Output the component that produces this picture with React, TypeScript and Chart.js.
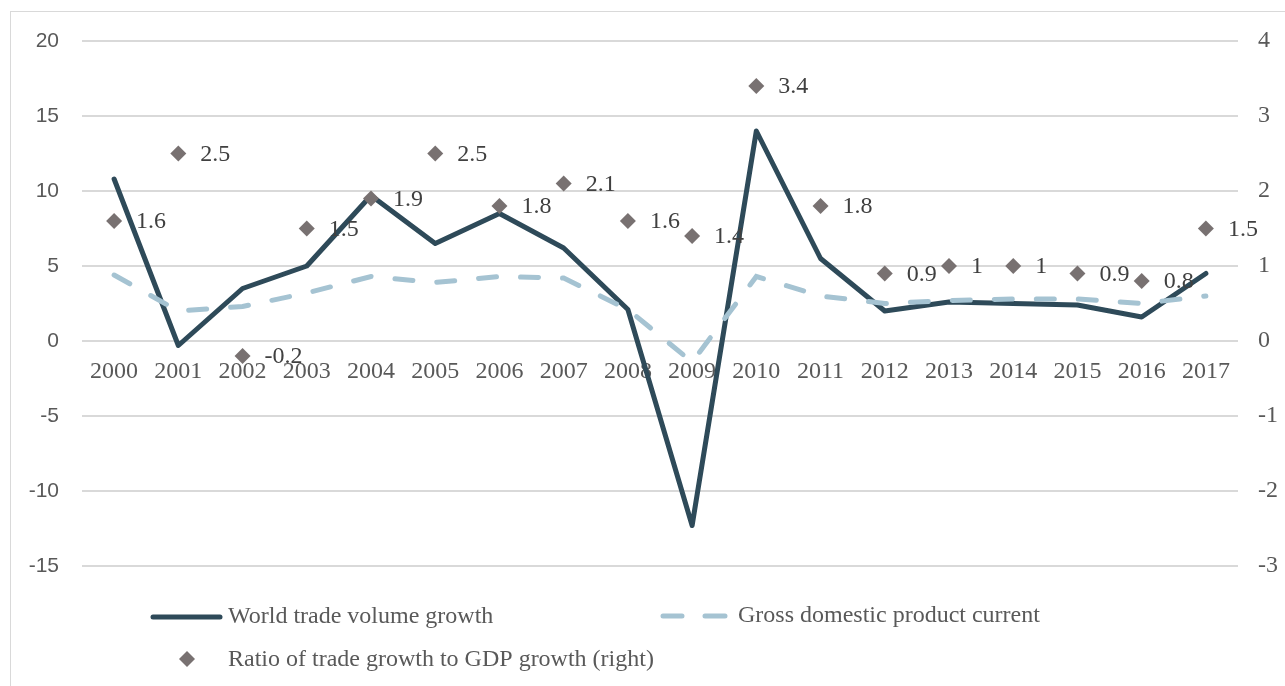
import React, { useEffect, useRef } from "react";
import { Chart, registerables } from "chart.js";

Chart.register(...registerables);

const years = ["2000", "2001", "2002", "2003", "2004", "2005", "2006", "2007", "2008", "2009", "2010", "2011", "2012", "2013", "2014", "2015", "2016", "2017"];
const tradeGrowth = [10.8, -0.3, 3.5, 5.0, 9.7, 6.5, 8.5, 6.2, 2.1, -12.3, 14.0, 5.5, 2.0, 2.6, 2.5, 2.4, 1.6, 4.5];
const gdpGrowth = [4.4, 2.0, 2.3, 3.2, 4.3, 3.9, 4.3, 4.2, 2.1, -1.4, 4.3, 3.0, 2.5, 2.7, 2.8, 2.8, 2.5, 3.0];
const ratio = [1.6, 2.5, -0.2, 1.5, 1.9, 2.5, 1.8, 2.1, 1.6, 1.4, 3.4, 1.8, 0.9, 1.0, 1.0, 0.9, 0.8, 1.5];
const ratioLabels = ["1.6", "2.5", "-0.2", "1.5", "1.9", "2.5", "1.8", "2.1", "1.6", "1.4", "3.4", "1.8", "0.9", "1", "1", "0.9", "0.8", "1.5"];

const seriesNames = ["World trade volume growth", "Gross domestic product current", "Ratio of trade growth to GDP growth (right)"];

const DARK = "#2E4A59";
const LIGHT = "#A5C3D2";
const GRAY = "#787171";
const TEXT = "#595959";
const SERIF = "'Liberation Serif', 'Times New Roman', serif";
const SANS = "'Liberation Sans', Arial, sans-serif";

const W = 1285;
const H = 686;
const AREA_LEFT = 82;
const AREA_RIGHT = 1238;
const AREA_TOP = 41;
const AREA_BOTTOM = 566;

const labelPlugin = {
  id: "ratioLabels",
  afterDatasetsDraw(chart: any) {
    const ctx = chart.ctx;
    const meta = chart.getDatasetMeta(2);
    ctx.save();
    ctx.font = `24px ${SERIF}`;
    ctx.fillStyle = "#404040";
    ctx.textAlign = "left";
    ctx.textBaseline = "middle";
    meta.data.forEach((pt: any, i: number) => {
      ctx.fillText(ratioLabels[i], pt.x + 22, pt.y + 1);
    });
    ctx.restore();
  },
};

const legendPlugin = {
  id: "customLegend",
  afterDraw(chart: any) {
    const ctx = chart.ctx;
    ctx.save();
    ctx.lineCap = "round";
    ctx.lineWidth = 5;
    // trade
    ctx.strokeStyle = DARK;
    ctx.beginPath();
    ctx.moveTo(153, 617);
    ctx.lineTo(220, 617);
    ctx.stroke();
    // gdp
    ctx.strokeStyle = LIGHT;
    ctx.beginPath();
    ctx.moveTo(663, 616);
    ctx.lineTo(682, 616);
    ctx.moveTo(705, 616);
    ctx.lineTo(725, 616);
    ctx.stroke();
    // ratio diamond
    ctx.fillStyle = GRAY;
    ctx.beginPath();
    ctx.moveTo(187, 651);
    ctx.lineTo(195, 659);
    ctx.lineTo(187, 667);
    ctx.lineTo(179, 659);
    ctx.closePath();
    ctx.fill();
    ctx.font = `24px ${SERIF}`;
    ctx.fillStyle = TEXT;
    ctx.textAlign = "left";
    ctx.textBaseline = "middle";
    ctx.fillText(seriesNames[0], 228, 617);
    ctx.fillText(seriesNames[1], 738, 616);
    ctx.fillText(seriesNames[2], 228, 660);
    ctx.restore();
  },
};

export default function App() {
  const ref = useRef<HTMLCanvasElement | null>(null);

  useEffect(() => {
    if (!ref.current) return;
    const chart = new Chart(ref.current, {
      type: "line",
      data: {
        labels: years,
        datasets: [
          {
            label: seriesNames[0],
            data: tradeGrowth,
            borderColor: DARK,
            backgroundColor: DARK,
            borderWidth: 5,
            pointRadius: 0,
            tension: 0,
            yAxisID: "y",
            order: 2,
            borderJoinStyle: "round",
            borderCapStyle: "round",
          },
          {
            label: seriesNames[1],
            data: gdpGrowth,
            borderColor: LIGHT,
            backgroundColor: LIGHT,
            borderWidth: 5,
            borderDash: [18, 24],
            borderCapStyle: "round",
            pointRadius: 0,
            tension: 0,
            yAxisID: "y",
            order: 1,
          },
          {
            label: seriesNames[2],
            data: ratio,
            showLine: false,
            pointStyle: "rectRot",
            pointRadius: 8,
            pointBorderWidth: 0,
            pointBackgroundColor: GRAY,
            pointBorderColor: GRAY,
            borderColor: GRAY,
            backgroundColor: GRAY,
            yAxisID: "y1",
            order: 0,
          },
        ],
      },
      options: {
        responsive: false,
        animation: false,
        layout: { padding: { top: AREA_TOP, bottom: H - AREA_BOTTOM, left: 0, right: 0 } },
        plugins: {
          legend: { display: false },
          tooltip: { enabled: false },
        },
        scales: {
          x: {
            type: "category",
            offset: true,
            position: { y: 0 } as any,
            grid: { display: false, drawTicks: false },
            border: { display: false },
            ticks: {
              color: TEXT,
              font: { family: SERIF, size: 24 },
              padding: 16,
              maxRotation: 0,
              autoSkip: false,
            },
          },
          y: {
            position: "left",
            min: -15,
            max: 20,
            ticks: {
              stepSize: 5,
              color: TEXT,
              font: { family: SANS, size: 21 },
              padding: 23,
            },
            grid: { color: "#D9D9D9", lineWidth: 2, drawTicks: false },
            border: { display: false },
            afterFit(scale: any) {
              scale.width = AREA_LEFT;
            },
          },
          y1: {
            position: "right",
            min: -3,
            max: 4,
            ticks: {
              stepSize: 1,
              color: TEXT,
              font: { family: SERIF, size: 24 },
              padding: 20,
            },
            grid: { drawOnChartArea: false, drawTicks: false },
            border: { display: false },
            afterFit(scale: any) {
              scale.width = W - AREA_RIGHT;
            },
          },
        },
      },
      plugins: [labelPlugin, legendPlugin],
    });
    return () => chart.destroy();
  }, []);

  return (
    <>
      <div
        style={{
          position: "fixed",
          left: 10,
          top: 11,
          width: 1290,
          height: 690,
          border: "1.5px solid #D9D9D9",
          boxSizing: "border-box",
        }}
      />
      <canvas
        ref={ref}
        width={W}
        height={H}
        style={{ position: "fixed", left: 0, top: 0, display: "block", width: W, height: H }}
      />
    </>
  );
}
